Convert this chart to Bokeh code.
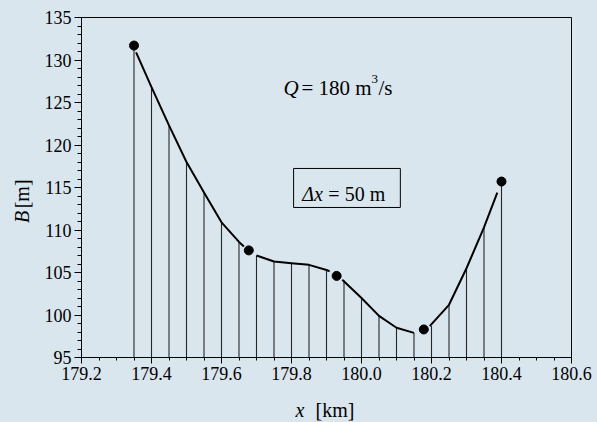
import numpy as np
from bokeh.plotting import figure
from bokeh.layouts import row, column
from bokeh.models import Label, FixedTicker, PrintfTickFormatter, Range1d
from bokeh.embed import file_html
from bokeh.resources import INLINE

# ---- data ----
station_km = [179.35, 179.40, 179.45, 179.50, 179.55, 179.60, 179.65, 179.70,
              179.75, 179.80, 179.85, 179.90, 179.95, 180.00, 180.05, 180.10,
              180.15, 180.20, 180.25, 180.30, 180.35, 180.40]
width_m = [131.7, 126.8, 122.3, 118.0, 114.4, 110.9, 108.6, 107.0,
           106.3, 106.1, 105.9, 105.3, 104.1, 102.0, 99.9, 98.5,
           97.9, 98.7, 101.2, 105.5, 110.3, 115.7]

measured_km = [179.35, 179.678, 179.929, 180.178, 180.40]
measured_m = [131.7, 107.6, 104.6, 98.3, 115.7]

# smooth curve (gaps around measured points, as drawn in the picture)
curve_km = [179.356, 179.40, 179.45, 179.50, 179.55, 179.60, 179.65, 179.664, np.nan,
            179.70, 179.75, 179.80, 179.85, 179.90, 179.909, np.nan,
            179.945, 180.00, 180.05, 180.10, 180.15, np.nan,
            180.195, 180.25, 180.30, 180.35, 180.388]
curve_m = [130.9, 126.8, 122.3, 118.0, 114.4, 110.9, 108.6, 108.06, np.nan,
           107.0, 106.3, 106.1, 105.9, 105.3, 105.15, np.nan,
           104.15, 102.0, 99.9, 98.5, 97.9, np.nan,
           98.7, 101.2, 105.5, 110.3, 114.4]

x_ticks = [179.2, 179.4, 179.6, 179.8, 180.0, 180.2, 180.4, 180.6]
y_ticks = [95, 100, 105, 110, 115, 120, 125, 130, 135]

BG = "#d9e6ee"
FONT = "Liberation Serif"

p = figure(width=557, height=392, title=None,
           x_range=Range1d(179.2, 180.6), y_range=Range1d(95, 135),
           output_backend="svg", toolbar_location=None,
           min_border_left=41, min_border_right=26,
           min_border_top=17, min_border_bottom=35,
           background_fill_color=BG, border_fill_color=BG)
p.grid.visible = False
p.outline_line_color = "black"
p.outline_line_width = 1

p.xaxis.ticker = FixedTicker(ticks=x_ticks,
                             minor_ticks=list(np.round(np.arange(179.2, 180.6001, 0.05), 3)))
p.yaxis.ticker = FixedTicker(ticks=y_ticks, minor_ticks=list(range(95, 136)))
p.xaxis.formatter = PrintfTickFormatter(format="%.1f")
for ax in (p.xaxis[0], p.yaxis[0]):
    ax.axis_line_color = "black"
    ax.axis_line_width = 1
    ax.major_tick_line_color = "black"
    ax.minor_tick_line_color = "black"
    ax.major_tick_in = 0
    ax.minor_tick_in = 0
    ax.major_label_text_font = FONT
    ax.major_label_text_font_size = "18px"
    ax.major_label_text_color = "black"
p.xaxis.major_tick_out = 6
p.xaxis.minor_tick_out = 3
p.yaxis.major_tick_out = 7
p.yaxis.minor_tick_out = 4
p.xaxis.major_label_standoff = 3
p.yaxis.major_label_standoff = 3

# vertical section lines
p.segment(x0=station_km, y0=[95] * len(station_km), x1=station_km, y1=width_m,
          line_color="#262626", line_width=1.1)
# curve
p.line(curve_km, curve_m, line_color="black", line_width=2, line_join="round")
# measured points
p.scatter(measured_km, measured_m, size=9, color="black")


def lab(fig, x, y, text, size="20px", style="normal", xo=0, yo=0, angle=0.0,
        baseline="alphabetic"):
    fig.add_layout(Label(x=x, y=y, text=text, x_offset=xo, y_offset=yo, angle=angle,
                         text_font=FONT, text_font_size=size, text_font_style=style,
                         text_color="black", text_baseline=baseline))


# Q label
lab(p, 179.777, 126.65, "Q", size="21px", style="italic")
lab(p, 179.777, 126.65, "= 180 m", size="21px", xo=18)
lab(p, 179.777, 126.65, "3", size="13px", xo=88, yo=9)
lab(p, 179.777, 126.65, "/s", size="21px", xo=95)

# Delta x label with box
p.quad(left=179.806, right=180.111, top=117.24, bottom=112.65,
       fill_alpha=0, line_color="black", line_width=1)
lab(p, 179.831, 114.18, "Δx", style="italic")
lab(p, 179.831, 114.18, "= 50 m", xo=26)


def strip(w, h, xr, yr):
    f = figure(width=w, height=h, x_range=xr, y_range=yr, title=None,
               output_backend="svg", toolbar_location=None, min_border=0,
               min_border_left=0, min_border_right=0,
               min_border_top=0, min_border_bottom=0,
               x_axis_location=None, y_axis_location=None,
               background_fill_color=BG, border_fill_color=BG)
    f.grid.visible = False
    f.outline_line_color = None
    return f


# left strip with the y-axis title (page pixel coordinates)
left = strip(40, 392, Range1d(0, 40), Range1d(392, 0))
lab(left, 21, 237, "B", style="italic", angle=np.pi / 2)
lab(left, 21, 220, "[m]", angle=np.pi / 2)

# bottom strip with the x-axis title (page pixel coordinates)
bottom = strip(597, 30, Range1d(0, 597), Range1d(422, 392))
lab(bottom, 295, 409, "x", style="italic", baseline="middle")
lab(bottom, 315, 409, "[km]", baseline="middle")

layout = column(row(left, p), bottom)
html = file_html(layout, INLINE)
html = html.replace("</head>",
                    "<style>html, body { background-color: %s; }</style>\n</head>" % BG, 1)
open("out.html", "w").write(html)
